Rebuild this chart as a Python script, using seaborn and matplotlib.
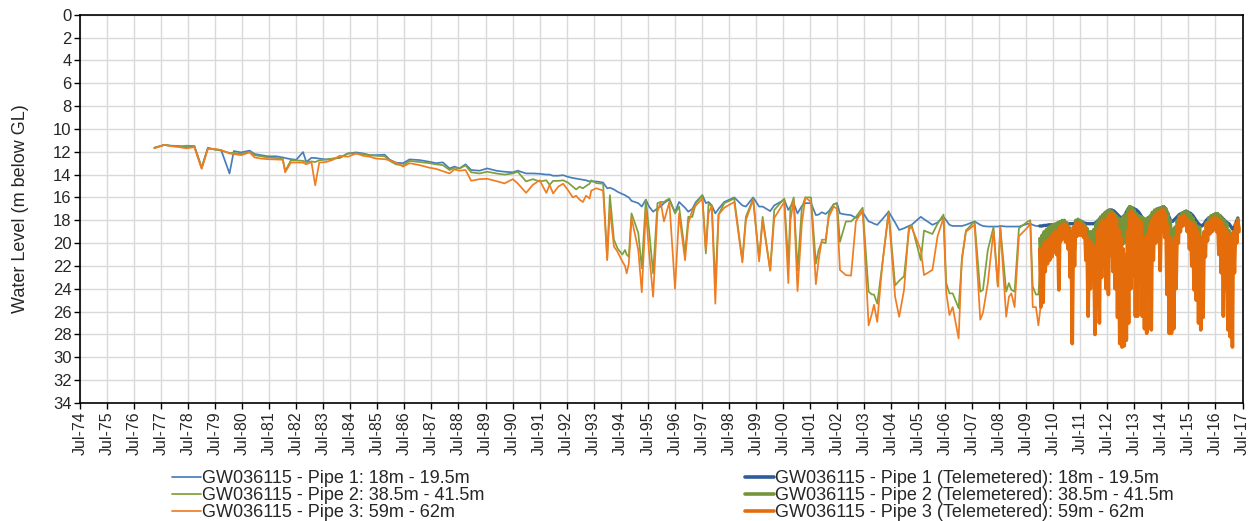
import numpy as np
import pandas as pd
import matplotlib
matplotlib.use("Agg")
import matplotlib.pyplot as plt
import seaborn as sns
from matplotlib.lines import Line2D

sns.set_theme(style="white")
plt.rcParams['font.family'] = ['Liberation Sans', 'DejaVu Sans']

# ---- Manual dip readings (decimal year, metres below ground level) ----
manual_dates = [
    1977.25, 1977.62, 1977.87, 1978.18, 1978.43, 1978.73, 1979.00, 1979.23,
    1979.48, 1979.72, 1980.03, 1980.19, 1980.46, 1980.77, 1980.96, 1981.20,
    1981.45, 1981.76, 1982.00, 1982.09, 1982.30, 1982.50, 1982.75, 1982.87,
    1983.06, 1983.20, 1983.35, 1983.60, 1983.86, 1984.10, 1984.41, 1984.72,
    1984.97, 1985.22, 1985.46, 1985.77, 1985.96, 1986.19, 1986.45, 1986.69,
    1987.06, 1987.43, 1987.67, 1987.92, 1988.17, 1988.35, 1988.54, 1988.76,
    1988.97, 1989.28, 1989.56, 1989.90, 1990.20, 1990.51, 1990.69, 1991.00,
    1991.25, 1991.50, 1991.75, 1991.87, 1992.00, 1992.19, 1992.37, 1992.55,
    1992.73, 1992.85, 1992.98, 1993.10, 1993.22, 1993.35, 1993.41, 1993.60,
    1993.85, 1994.00, 1994.10, 1994.25, 1994.38, 1994.56, 1994.66, 1994.72,
    1994.80, 1994.90, 1995.15, 1995.28, 1995.43, 1995.55, 1995.70, 1995.86,
    1995.98, 1996.10, 1996.22, 1996.30, 1996.51, 1996.66, 1996.88, 1997.00,
    1997.15, 1997.28, 1997.52, 1997.65, 1997.75, 1997.87, 1998.00, 1998.12,
    1998.33, 1998.70, 1999.00, 1999.13, 1999.40, 1999.62, 1999.75, 2000.03,
    2000.18, 2000.55, 2000.70, 2000.78, 2000.90, 2001.04, 2001.20, 2001.33,
    2001.54, 2001.72, 2001.82, 2001.94, 2002.08, 2002.20, 2002.38, 2002.50,
    2002.61, 2002.83, 2003.02, 2003.20, 2003.45, 2003.67, 2003.79, 2003.87,
    2003.99, 2004.18, 2004.41, 2004.65, 2004.80, 2004.98, 2005.16, 2005.26,
    2005.60, 2005.72, 2006.03, 2006.22, 2006.44, 2006.54, 2006.66, 2006.78,
    2007.00, 2007.12, 2007.27, 2007.59, 2007.80, 2007.90, 2008.08, 2008.29,
    2008.45, 2008.54, 2008.76, 2008.86, 2008.95, 2009.07, 2009.23, 2009.56,
    2009.65, 2009.74, 2009.86, 2009.95, 2010.03,
]
pipe1_manual = [
    11.65, 11.40, 11.47, 11.50, 11.60, 11.50, 13.40, 11.65,
    11.80, 11.85, 13.90, 11.94, 12.06, 11.90, 12.20, 12.30,
    12.40, 12.40, 12.50, 12.55, 12.65, 12.70, 12.03, 12.90,
    12.53, 12.55, 12.60, 12.68, 12.60, 12.53, 12.15, 12.06,
    12.15, 12.30, 12.30, 12.26, 12.70, 12.96, 13.00, 12.67,
    12.73, 12.88, 13.00, 12.93, 13.46, 13.30, 13.46, 13.10,
    13.60, 13.66, 13.46, 13.66, 13.75, 13.80, 13.66, 13.90,
    13.90, 13.93, 14.00, 14.00, 14.10, 14.10, 14.05, 14.20,
    14.30, 14.35, 14.40, 14.45, 14.50, 14.60, 14.60, 14.60,
    14.70, 15.20, 15.15, 15.30, 15.50, 15.70, 15.80, 15.90,
    16.00, 16.30, 16.50, 16.80, 16.20, 16.80, 17.25, 16.96,
    16.80, 16.50, 16.30, 16.20, 17.30, 16.40, 16.90, 17.25,
    17.00, 16.40, 15.80, 16.50, 16.40, 16.70, 17.40, 17.00,
    16.40, 16.00, 16.70, 16.80, 16.00, 16.80, 16.80, 17.20,
    16.70, 16.20, 17.10, 16.80, 16.50, 17.40, 16.75, 16.50,
    16.50, 17.55, 17.50, 17.30, 17.45, 17.20, 16.60, 16.50,
    17.40, 17.50, 17.55, 17.80, 17.30, 18.10, 18.20, 18.30,
    18.40, 17.90, 17.25, 18.20, 18.85, 18.70, 18.50, 18.40,
    17.70, 17.90, 18.40, 18.20, 17.70, 18.00, 18.40, 18.50,
    18.50, 18.50, 18.40, 18.10, 18.40, 18.50, 18.55, 18.55,
    18.55, 18.50, 18.55, 18.55, 18.55, 18.55, 18.55, 18.30,
    18.30, 18.40, 18.50, 18.50, 18.50,
]
pipe2_manual = [
    11.65, 11.40, 11.50, 11.55, 11.47, 11.50, 13.40, 11.70,
    11.80, 11.90, 12.10, 12.10, 12.20, 12.00, 12.30, 12.40,
    12.50, 12.55, 12.60, 13.70, 12.75, 12.75, 12.80, 12.90,
    12.85, 12.90, 12.75, 12.68, 12.60, 12.55, 12.15, 12.15,
    12.20, 12.30, 12.35, 12.40, 12.80, 13.10, 13.20, 12.80,
    12.90, 13.00, 13.10, 13.17, 13.60, 13.40, 13.46, 13.20,
    13.80, 13.90, 13.75, 13.90, 14.00, 13.90, 13.75, 14.60,
    14.40, 14.60, 14.50, 14.90, 14.55, 14.55, 14.50, 14.70,
    15.06, 15.30, 15.06, 15.20, 15.00, 14.80, 14.50, 14.75,
    14.80, 21.30, 15.80, 19.70, 20.45, 21.00, 20.60, 21.00,
    21.20, 17.40, 19.10, 22.20, 16.20, 18.90, 22.65, 16.50,
    16.40, 16.40, 16.20, 16.10, 17.40, 16.80, 20.90, 17.70,
    17.70, 16.50, 15.80, 20.90, 16.50, 16.80, 23.70, 17.50,
    16.50, 16.10, 21.50, 17.70, 16.10, 21.35, 17.70, 22.40,
    17.10, 16.10, 21.80, 16.90, 16.00, 22.40, 16.90, 16.00,
    16.00, 21.80, 20.60, 19.90, 20.00, 17.40, 16.60, 16.50,
    19.90, 18.10, 18.10, 17.70, 16.90, 24.25, 24.50, 24.50,
    25.30, 21.80, 17.20, 23.70, 23.30, 22.90, 18.90, 18.40,
    21.50, 18.90, 19.20, 18.30, 17.50, 23.50, 24.40, 24.40,
    25.70, 21.50, 18.90, 18.10, 24.25, 24.10, 20.60, 18.60,
    23.80, 18.60, 24.25, 23.50, 24.10, 24.25, 18.70, 18.10,
    18.00, 23.80, 24.50, 24.50, 21.80,
]
pipe3_manual = [
    11.70, 11.40, 11.50, 11.60, 11.70, 11.60, 13.50, 11.75,
    11.75, 11.85, 12.15, 12.20, 12.30, 12.06, 12.50, 12.60,
    12.65, 12.68, 12.70, 13.80, 12.94, 12.94, 12.95, 13.10,
    12.90, 14.94, 12.95, 12.90, 12.70, 12.35, 12.44, 12.15,
    12.35, 12.44, 12.60, 12.65, 12.75, 12.96, 13.30, 13.00,
    13.17, 13.40, 13.50, 13.70, 13.90, 13.55, 13.66, 13.60,
    14.54, 14.40, 14.37, 14.57, 14.77, 14.40, 14.77, 15.60,
    14.90, 14.50, 15.60, 14.90, 15.65, 15.06, 14.80, 15.36,
    16.00, 15.85, 16.20, 16.40, 15.85, 16.10, 15.40, 15.20,
    15.40, 21.50, 17.00, 20.30, 20.75, 21.60, 22.00, 22.65,
    21.80, 17.80, 20.60, 24.30, 17.10, 20.80, 24.70, 17.25,
    16.40, 18.10, 17.10, 16.40, 24.00, 17.40, 21.50, 18.30,
    17.10, 16.70, 16.10, 20.60, 17.40, 16.70, 25.30, 17.50,
    16.90, 16.40, 21.70, 18.00, 16.20, 21.60, 18.00, 22.40,
    17.80, 16.40, 23.50, 18.00, 16.20, 24.20, 18.30, 16.00,
    16.40, 23.60, 21.50, 19.70, 19.70, 17.70, 16.80, 17.00,
    22.35, 22.80, 22.85, 18.10, 17.10, 27.20, 26.20, 25.40,
    26.90, 21.80, 17.40, 24.70, 26.45, 24.10, 18.60, 18.60,
    20.60, 22.80, 22.35, 19.40, 17.80, 24.25, 26.30, 25.60,
    28.35, 21.30, 19.00, 18.40, 26.70, 26.10, 23.50, 18.90,
    23.80, 18.60, 26.45, 24.70, 24.40, 25.60, 19.40, 18.60,
    18.20, 25.60, 25.60, 27.20, 25.60,
]

# ---- Telemetered record, monthly shallowest / deepest levels (Jan 2010 - May 2017) ----
tele_months = pd.date_range("2010-01-01", periods=89, freq="MS")
pipe1_tele = [
    18.5, 18.5, 18.45, 18.45, 18.4, 18.4, 18.4, 18.45, 18.45, 18.4, 18.4, 18.4, 18.4,
    18.3, 18.3, 18.3, 18.2, 18.2, 18.2, 18.2, 18.25, 18.3, 18.3, 18.3, 18.3, 18.2,
    18.0, 17.8, 17.6, 17.4, 17.2, 17.1, 17.1, 17.2, 17.4, 17.6, 17.8, 17.7, 17.5, 17.1,
    16.8, 16.9, 17.0, 17.1, 17.3, 17.6, 17.9, 18.0, 17.8, 17.7, 17.5, 17.3, 17.1,
    16.95, 16.9, 16.8, 17.0, 17.5, 18.0, 18.1, 17.9, 17.7, 17.5, 17.4, 17.3, 17.2,
    17.3, 17.4, 17.6, 17.9, 18.2, 18.4, 18.5, 18.3, 18.0, 17.8, 17.7, 17.6, 17.5,
    17.5, 17.6, 17.8, 18.0, 18.2, 18.3, 18.6, 18.85, 18.3, 17.8,
]
pipe2_tele_high = [
    19.6, 19.3, 19.0, 18.8, 18.6, 18.5, 18.4, 18.3, 18.2, 18.1,
    18.0, 18.0, 18.2, 18.6, 19.0, 18.6, 18.0, 17.9, 18.0, 18.1,
    18.4, 18.7, 19.0, 19.0, 18.8, 18.3, 18.0, 17.7, 17.5, 17.3,
    17.2, 17.1, 17.2, 17.4, 17.6, 17.8, 17.9, 17.7, 17.5, 17.1,
    16.8, 16.9, 17.1, 17.4, 17.6, 17.7, 17.8, 17.9, 17.8, 17.6,
    17.3, 17.1, 17.0, 17.0, 16.9, 16.8, 17.0, 17.4, 18.0, 18.8,
    18.6, 18.0, 17.6, 17.4, 17.3, 17.2, 17.3, 17.5, 17.8, 18.2,
    18.5, 18.6, 19.5, 19.0, 18.2, 17.8, 17.6, 17.5, 17.4, 17.4,
    17.6, 17.8, 18.0, 18.3, 18.9, 19.2, 19.5, 18.6, 17.9,
]
pipe2_tele_low = [
    22.3, 21.2, 20.8, 20.6, 20.3, 20.0, 19.8, 19.6, 19.6, 19.4,
    19.2, 19.4, 20.0, 21.5, 22.5, 20.5, 19.0, 18.8, 18.9, 19.3,
    20.0, 20.6, 20.6, 20.3, 20.0, 19.5, 19.0, 18.8, 18.6, 18.4,
    18.2, 18.3, 18.6, 19.0, 19.4, 19.8, 20.2, 20.0, 19.4, 18.4,
    17.8, 18.0, 18.6, 19.4, 20.0, 20.3, 20.5, 20.5, 20.3, 19.6,
    18.8, 18.2, 18.0, 18.2, 17.9, 17.8, 18.6, 19.6, 20.3, 20.3,
    19.8, 19.0, 18.4, 18.1, 18.0, 18.0, 18.4, 19.0, 19.6, 20.3,
    20.6, 20.6, 20.5, 20.0, 19.0, 18.6, 18.3, 18.2, 18.2, 18.4,
    19.0, 19.6, 20.0, 20.4, 20.8, 20.9, 20.5, 19.4, 18.8,
]
pipe3_tele_high = [
    20.5, 20.8, 20.0, 19.8, 19.7, 19.4, 19.2, 19.0, 18.9, 18.6,
    18.4, 18.3, 18.5, 18.8, 19.5, 18.6, 18.3, 18.3, 18.2, 18.4,
    18.6, 19.5, 19.8, 20.0, 20.5, 20.2, 18.8, 18.3, 18.0, 18.0,
    17.8, 17.5, 17.4, 17.5, 17.9, 18.8, 19.5, 20.5, 21.0, 19.0,
    17.4, 17.2, 17.5, 17.8, 18.0, 18.2, 19.5, 20.0, 19.2, 18.5,
    18.0, 17.6, 17.4, 17.3, 17.1, 17.1, 17.6, 18.5, 19.5, 20.0,
    19.5, 18.5, 17.8, 17.7, 17.6, 17.8, 18.0, 18.2, 18.3, 18.6,
    19.0, 19.5, 19.8, 19.0, 18.3, 18.2, 18.0, 17.8, 17.8, 17.9,
    18.0, 18.3, 18.6, 19.0, 19.3, 19.6, 19.0, 18.3, 18.0,
]
pipe3_tele_low = [
    25.6, 25.2, 22.5, 21.8, 21.5, 21.2, 20.8, 21.0, 24.1, 19.8,
    19.6, 19.9, 20.5, 23.0, 28.8, 22.0, 19.4, 19.3, 19.3, 19.5,
    21.5, 26.4, 24.0, 22.0, 28.0, 25.5, 27.0, 23.0, 22.0, 24.0,
    24.5, 21.0, 22.5, 24.0, 26.5, 28.8, 29.1, 29.0, 28.5, 27.0,
    24.0, 22.9, 26.4, 26.4, 22.0, 26.4, 27.5, 27.9, 24.0, 27.6,
    21.5, 20.0, 19.5, 22.4, 19.0, 19.5, 24.5, 27.9, 27.9, 27.5,
    24.0, 20.0, 19.0, 18.5, 18.4, 19.0, 20.5, 22.0, 24.1, 25.0,
    27.0, 27.6, 26.5, 21.2, 19.8, 19.2, 19.0, 18.8, 19.0, 21.0,
    22.6, 26.4, 24.0, 27.6, 28.2, 29.1, 22.6, 20.0, 19.0,
]

year_ticks = list(range(1974, 2018))
depth_ticks = list(range(0, 36, 2))

series_labels = [
    "GW036115 - Pipe 1: 18m - 19.5m",
    "GW036115 - Pipe 2: 38.5m - 41.5m",
    "GW036115 - Pipe 3: 59m - 62m",
    "GW036115 - Pipe 1 (Telemetered): 18m - 19.5m",
    "GW036115 - Pipe 2 (Telemetered): 38.5m - 41.5m",
    "GW036115 - Pipe 3 (Telemetered): 59m - 62m",
]
manual_colors = ["#4a7ebb", "#7ea03c", "#f07d22"]
tele_colors = ["#2e5b99", "#76953a", "#e46c0a"]


def decimal_year(ts):
    start = pd.to_datetime(ts.year.astype(str) + "-01-01")
    return ts.year + (ts - start).days / 365.25


tele_t = np.asarray(decimal_year(tele_months))


def monthly_range(high, low):
    """Interleave each month's shallowest and deepest level."""
    x, y = [], []
    for t, h, l in zip(tele_t, high, low):
        x += [t, t + 1 / 24]
        y += [h, l]
    return pd.DataFrame({"year": x, "level": y})


fig = plt.figure(figsize=(12.55, 5.21), dpi=100)
ax = fig.add_axes([80 / 1255, 1 - 403 / 521, (1242.5 - 80) / 1255, (403 - 14.7) / 521])

manual_df = pd.DataFrame({"year": manual_dates, "p1": pipe1_manual,
                          "p2": pipe2_manual, "p3": pipe3_manual})
for col, c in zip(["p1", "p2", "p3"], manual_colors):
    sns.lineplot(data=manual_df, x="year", y=col, ax=ax, color=c, linewidth=1.25,
                 estimator=None, sort=False, legend=False)

tele1 = pd.DataFrame({"year": tele_t, "level": pipe1_tele})
sns.lineplot(data=tele1, x="year", y="level", ax=ax, color=tele_colors[0],
             linewidth=2.4, estimator=None, sort=False, legend=False)
sns.lineplot(data=monthly_range(pipe2_tele_high, pipe2_tele_low), x="year", y="level",
             ax=ax, color=tele_colors[1], linewidth=2.4, estimator=None, sort=False,
             legend=False)
sns.lineplot(data=monthly_range(pipe3_tele_high, pipe3_tele_low), x="year", y="level",
             ax=ax, color=tele_colors[2], linewidth=2.6, estimator=None, sort=False,
             legend=False)

ax.set_xlim(1974.5, 2017.5)
ax.set_ylim(34, 0)
ax.set_xticks([y + 0.5 for y in year_ticks])
ax.set_xticklabels([f"Jul-{y % 100:02d}" for y in year_ticks], rotation=90,
                   fontsize=11.5)
ax.set_yticks(depth_ticks)
ax.set_yticklabels([str(d) for d in depth_ticks], fontsize=12)
ax.set_xlabel("")
ax.set_ylabel("Water Level (m below GL)", fontsize=13, labelpad=17)
ax.grid(True, color="#d9d9d9", linewidth=1.0)
ax.set_axisbelow(True)
for s in ax.spines.values():
    s.set_color("black")
    s.set_linewidth(1.2)
ax.tick_params(axis="both", direction="out", length=4, width=1, color="black",
               pad=2, bottom=True, left=True)

left_handles = [Line2D([], [], color=c, linewidth=1.25) for c in manual_colors]
right_handles = [Line2D([], [], color=c, linewidth=2.6) for c in tele_colors]
common = dict(loc="upper left", frameon=False, fontsize=13, handlelength=1.6,
              handletextpad=0.08, labelspacing=0.0, borderpad=0, borderaxespad=0)
fig.legend(handles=left_handles, labels=series_labels[:3],
           bbox_to_anchor=(172 / 1255, 1 - 470 / 521), **common)
fig.legend(handles=right_handles, labels=series_labels[3:],
           bbox_to_anchor=(745 / 1255, 1 - 470 / 521), **common)

fig.savefig("out.png", dpi=100)
